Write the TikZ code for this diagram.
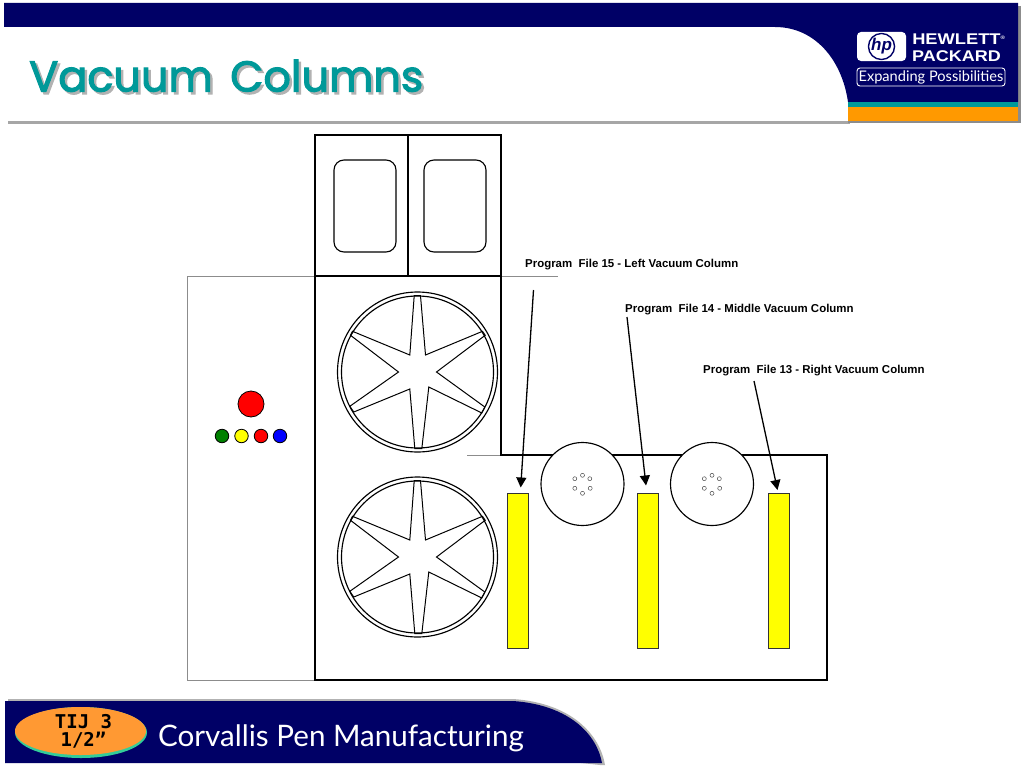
\documentclass[tikz,border=0pt]{standalone}
\usepackage{fontspec}
\setmainfont{Liberation Sans}
\newfontfamily\titlefont[FakeBold=2.5]{Poppins}
\newfontfamily\footfont{Lato}
\newfontfamily\tijfont{DejaVu Sans Mono}
\usetikzlibrary{arrows.meta,shapes.geometric}
\definecolor{hpnavy}{HTML}{000066}
\definecolor{hpteal}{HTML}{009999}
\definecolor{hporange}{HTML}{FF9900}
\definecolor{ovalgreen}{HTML}{33CC99}
\definecolor{ovalorange}{HTML}{FF9933}
\definecolor{pureyellow}{RGB}{255,255,0}
\definecolor{purered}{RGB}{255,0,0}
\definecolor{pureblue}{RGB}{0,0,255}
\definecolor{puregreen}{RGB}{0,128,0}
\tikzset{
  ln/.style={line width=1.25pt,black},
  faint/.style={line width=0.6pt,black!45},
  col/.style={draw=black!80,line width=1pt,fill=pureyellow,minimum width=21pt,minimum height=155pt,inner sep=0pt,outer sep=0pt},
  lamp/.style={circle,draw=black,line width=0.8pt,inner sep=0pt,outer sep=0pt,minimum size=#1},
  lbl/.style={anchor=west,inner sep=0pt,font=\fontsize{11.45}{13}\selectfont\bfseries},
  arr/.style={line width=1.3pt,-{Triangle[length=10pt,width=10pt]}},
  door/.style={draw=black,line width=1.15pt,rounded corners=10pt,minimum width=62pt,minimum height=92pt,inner sep=0pt,outer sep=0pt},
  pics/wheel/.style={code={
    \node[circle,draw=black,line width=1.15pt,fill=white,minimum size=160pt,inner sep=0pt] (-outer) at (0,0) {};
    \node[circle,draw=black,line width=1.15pt,minimum size=152pt,inner sep=0pt] (-inner) at (0,0) {};
    \draw[line width=1pt,line join=miter] (-3.3,-76.3)--(3,-76.3)--(8,-17)--(65,-40.7)--(67.7,-36.7)--(19,0)--(67.3,35)--(64.3,41)--(11.3,15)--(4.3,76.7)--(-2.7,76.7)--(-7.7,17)--(-63.7,40)--(-67.7,34.3)--(-19,0)--(-67,-36.7)--(-65,-40.7)--(-7.7,-17)--cycle;
  }},
  pics/reel/.style={code={
    \node[circle,draw=black,line width=1.15pt,fill=white,minimum size=83pt,inner sep=0pt] (-disc) at (0,0) {};
    \foreach \hx/\hy in {0/-8.7,7.3/-5.3,7.7/4.3,0/9.3,-7.7/4.3,-7.7/-5.3}
      \draw[line width=0.5pt,black!70] (\hx,\hy) circle (2);
  }}
}
\begin{document}
\begin{tikzpicture}[x=1pt,y=-1pt]
\useasboundingbox (0,0) rectangle (1024,768);
\fill[white] (0,0) rectangle (1024,768);

% header
\fill[black!35] (8,121) rectangle (850,123.5);
\fill[black!45] (1018,6) rectangle (1020.5,123);
\fill[black!45] (848,120.5) rectangle (1020.5,123);
\fill[hpnavy] (4,3) -- (1018,3) -- (1018,102) -- (848,102) .. controls (842,60) and (815,27) .. (775,27) -- (4,27) -- cycle;
\fill[hpteal] (848,101.5) rectangle (1018,107.5);
\fill[hporange] (848,107) rectangle (1018,121);
\node[inner sep=0pt,anchor=west] (title) at (29,77) {\titlefont\fontsize{43}{50}\selectfont\rlap{\hspace{2.5pt}\raisebox{-2.5pt}{\textcolor{black!30}{Vacuum\hspace{6pt} Columns}}}\textcolor{hpteal}{Vacuum\hspace{6pt} Columns}};

% logo
\node[fill=white,rounded corners=4pt,minimum width=49pt,minimum height=29pt,inner sep=0pt] (hpbox) at (881.5,46.5) {};
\node[circle,draw=hpnavy,line width=1.4pt,minimum size=25pt,inner sep=0pt,font=\fontsize{17}{17}\selectfont\bfseries\itshape,text=hpnavy] (hpmark) at (881.5,46.5) {hp};
\node[anchor=west,inner sep=0pt,text=white,font=\fontsize{15.5}{16}\selectfont\bfseries,xscale=1.18] (hew) at (912,39) {HEWLETT\raisebox{5pt}{\fontsize{5}{5}\selectfont®}};
\node[anchor=west,inner sep=0pt,text=white,font=\fontsize{15.5}{16}\selectfont\bfseries,xscale=1.16] (pac) at (912,56.5) {PACKARD};
\node[draw=white,line width=0.9pt,rounded corners=3pt,minimum width=148pt,minimum height=18pt,inner sep=0pt,text=white] (expbox) at (931,77) {\footfont\fontsize{14.6}{16}\selectfont Expanding Possibilities};

% footer
\fill[black!30] (8,699) -- (513,699) .. controls (572,703) and (600,735) .. (605,765) -- (600,765) -- (8,702) -- cycle;
\fill[hpnavy] (5,701) -- (513,701) .. controls (570,705) and (597,735) .. (602,763) -- (5,763) -- cycle;
\node[ellipse,fill=ovalgreen,minimum width=132pt,minimum height=51pt,inner sep=0pt] (ovalbase) at (81,732.5) {};
\node[ellipse,fill=ovalorange,minimum width=131pt,minimum height=48pt,inner sep=0pt,align=center,font=\tijfont\bfseries\fontsize{19}{18}\selectfont] (oval) at (80.5,731) {\hspace*{6pt}\raisebox{-2pt}{TIJ 3}\\\hspace*{6pt}\raisebox{-2pt}{1/2”}};
\node[anchor=west,inner sep=0pt,text=white,font=\footfont\fontsize{29.6}{32}\selectfont] (foot) at (158,738) {Corvallis Pen Manufacturing};

% machine outline
\draw[faint] (315,276) -- (187,276) -- (187,680) -- (315,680);
\draw[faint] (501,276) -- (558,276);
\draw[faint] (467,455) -- (501,455);
\draw[ln] (315,135) rectangle (501,276);
\draw[ln] (408,135) -- (408,276);
\draw[ln] (315,276) -- (315,680) -- (827,680) -- (827,455) -- (501,455) -- (501,276);
\node[door] (doorL) at (365,206) {};
\node[door] (doorR) at (455,206) {};

% wheels
\pic (wheelA) at (417.5,372) {wheel};
\pic (wheelB) at (417.5,557) {wheel};

% lamps
\node[lamp=26pt,fill=purered] (big) at (251,404) {};
\node[lamp=13.5pt,fill=puregreen] (ga) at (222,436) {};
\node[lamp=13.5pt,fill=pureyellow] (gb) at (241.5,436) {};
\node[lamp=13.5pt,fill=purered] (gc) at (261,436) {};
\node[lamp=13.5pt,fill=pureblue] (gd) at (280,436) {};

% reels
\pic (reelA) at (582.5,484) {reel};
\pic (reelB) at (712,484) {reel};

% columns
\node[col] (colL) at (517.5,570.5) {};
\node[col] (colM) at (648,570.5) {};
\node[col] (colR) at (778.5,570.5) {};

% labels
\node[lbl] (lab15) at (525,264.3) {Program\ \ File 15 - Left Vacuum Column};
\node[lbl] (lab14) at (625,309.3) {Program\ \ File 14 - Middle Vacuum Column};
\node[lbl] (lab13) at (703,370.3) {Program\ \ File 13 - Right Vacuum Column};
\coordinate (s15) at (533.5,290);
\coordinate (s14) at (627,317);
\coordinate (s13) at (754,381);
\draw[arr] (s15) -- ([xshift=3.2pt,yshift=5.5pt]colL.north);
\draw[arr] (s14) -- ([xshift=-2pt,yshift=7.5pt]colM.north);
\draw[arr] (s13) -- ([xshift=-1pt,yshift=3pt]colR.north);
\end{tikzpicture}
\end{document}
